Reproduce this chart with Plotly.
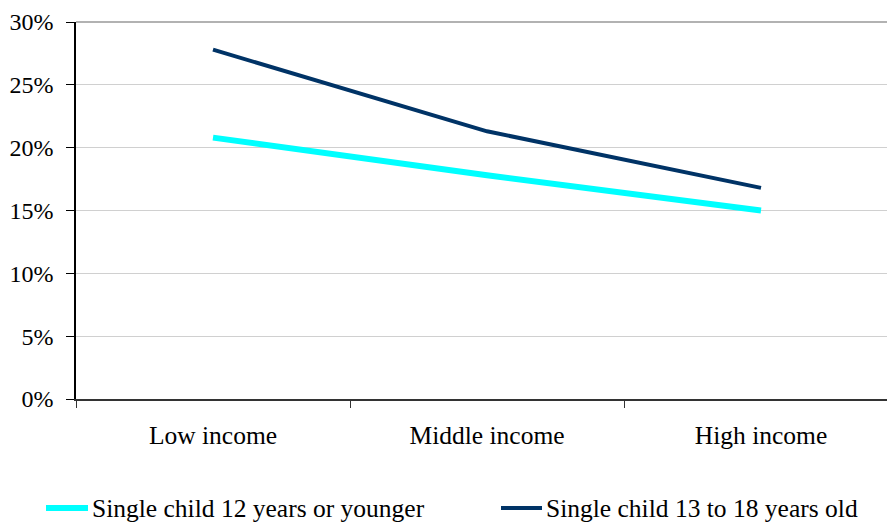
import plotly.graph_objects as go

# Share of households by income group
categories = ["Low income", "Middle income", "High income"]
young_child = [0.208, 0.178, 0.150]   # Single child 12 years or younger
teen_child = [0.278, 0.213, 0.168]    # Single child 13 to 18 years old
series_names = ["Single child 12 years or younger", "Single child 13 to 18 years old"]
y_ticks = [0, 0.05, 0.10, 0.15, 0.20, 0.25, 0.30]

FONT = "Liberation Serif"
CYAN = "#00FFFF"
NAVY = "#003366"

fig = go.Figure()
fig.add_trace(go.Scatter(x=categories, y=young_child, mode="lines",
                         name=series_names[0], line=dict(color=CYAN, width=6)))
fig.add_trace(go.Scatter(x=categories, y=teen_child, mode="lines",
                         name=series_names[1], line=dict(color=NAVY, width=4)))

W, H = 887, 522
L, T, B, R = 76, 22, 123, 0
pw, ph = W - L - R, H - T - B

def px_x(p):
    return (p - L) / pw

def px_y(p):
    return (H - B - p) / ph

# frame line along the top of the plot area
fig.add_shape(type="line", xref="paper", yref="paper", x0=0, x1=1, y0=1, y1=1,
              line=dict(color="#999999", width=1.5), layer="above")

# custom legend row beneath the axis
legend_y = px_y(508)
for (x0, x1, tx), name, color, w in [((46, 88, 90), series_names[0], CYAN, 6),
                                     ((501, 542, 544), series_names[1], NAVY, 4)]:
    fig.add_shape(type="line", xref="paper", yref="paper",
                  x0=px_x(x0), x1=px_x(x1), y0=legend_y, y1=legend_y,
                  line=dict(color=color, width=w))
    fig.add_annotation(xref="paper", yref="paper", x=px_x(tx), y=legend_y,
                       text=name, showarrow=False, xanchor="left", yanchor="middle",
                       font=dict(family=FONT, size=25.5, color="black"))

fig.update_layout(
    width=W, height=H,
    margin=dict(l=L, r=R, t=T, b=B, pad=0),
    paper_bgcolor="white", plot_bgcolor="white",
    showlegend=False,
    font=dict(family=FONT, size=24, color="black"),
    xaxis=dict(
        range=[-0.5, 2.5 - (898 - W) / 274],
        tickson="boundaries", ticks="outside", ticklen=7, tickcolor="#333333",
        showline=True, linecolor="#333333", linewidth=1.5,
        showgrid=False, zeroline=False, ticklabelstandoff=13,
        tickfont=dict(family=FONT, size=25.5, color="black"),
    ),
    yaxis=dict(
        range=[0, 0.30], tickvals=y_ticks, tickformat=".0%",
        ticks="outside", ticklen=8, tickcolor="black",
        showline=True, linecolor="black", linewidth=1.5,
        showgrid=True, gridcolor="#D0D0D0", gridwidth=1,
        zeroline=False, ticklabelstandoff=8,
        tickfont=dict(family=FONT, size=24, color="black"),
    ),
)

fig.write_html("out.html")
